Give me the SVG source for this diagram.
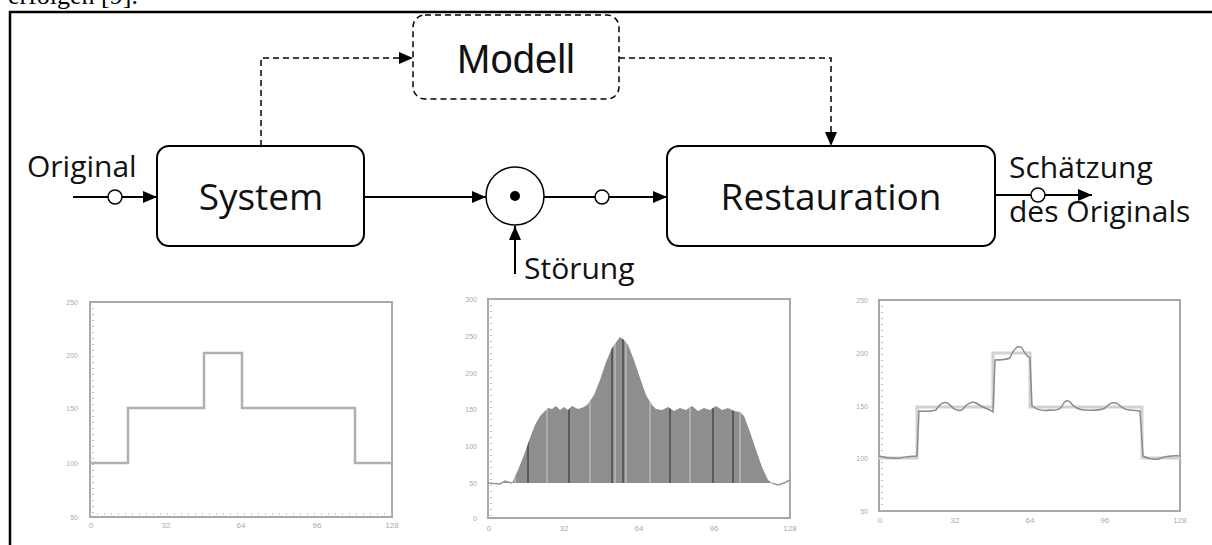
<svg xmlns="http://www.w3.org/2000/svg" width="1212" height="545" viewBox="0 0 1212 545">
<style>
.box{fill:#fff;stroke:#000;stroke-width:2}
.dbox{fill:#fff;stroke:#000;stroke-width:1.5;stroke-dasharray:6 4}
.con{fill:none;stroke:#000;stroke-width:2}
.dcon{fill:none;stroke:#000;stroke-width:1.5;stroke-dasharray:6 4}
.jn{fill:#fff;stroke:#000;stroke-width:1.5}
.lbl{font-family:"Open Sans","Noto Sans",sans-serif;fill:#111}
.big{font-size:37px;text-anchor:middle}
.sm{font-size:30px}
.pf{fill:#fff;stroke:#a8a8a8;stroke-width:2}
.tk{font-family:"Liberation Sans",sans-serif;font-size:8px;fill:#aaa;text-anchor:middle}
.ty{font-family:"Liberation Sans",sans-serif;font-size:7px;fill:#aaa;text-anchor:end}
</style>
<defs>
<marker id="arr" viewBox="0 0 14 12" refX="14" refY="6" markerWidth="14" markerHeight="12" markerUnits="userSpaceOnUse" orient="auto">
<path d="M0,0 L14,6 L0,12 z" fill="#000"/>
</marker>
<clipPath id="fillclip">
<path id="fillshape" d="M488,483 L500,484 L505,481 L512,483 L518,470 L524,455 L530,438 L535,425 L540,416 L545,411 L548,408 L552,409 L556,406 L560,410 L564,407 L568,410 L572,406 L578,409 L584,407 L588,404 L594,395 L600,380 L606,362 L612,348 L617,341 L620,337 L624,340 L628,345 L634,360 L640,378 L646,395 L652,405 L656,409 L662,410 L668,407 L674,411 L680,408 L686,410 L692,406 L698,411 L704,408 L710,410 L716,406 L722,410 L728,408 L734,411 L740,412 L744,416 L750,432 L756,450 L762,467 L768,480 L772,483 Z"/>
</clipPath>
</defs>
<rect width="1212" height="545" fill="#fff"/>
<text x="8" y="4" font-family="Liberation Serif,serif" font-size="26" fill="#000">erfolgen [9].</text>
<path d="M10,545 V12 H1212" fill="none" stroke="#000" stroke-width="2.5"/>

<g id="connectors">
<path class="con" d="M73,197 H157" marker-end="url(#arr)"/>
<circle class="jn" cx="115" cy="197" r="7"/>
<path class="con" d="M364,197 H486" marker-end="url(#arr)"/>
<path class="con" d="M544,197 H667" marker-end="url(#arr)"/>
<circle class="jn" cx="602" cy="197" r="7"/>
<path class="con" d="M515,274 V226" marker-end="url(#arr)"/>
<path class="con" d="M995,195 H1092" marker-end="url(#arr)"/>
<circle class="jn" cx="1038" cy="195" r="7"/>
<path class="dcon" d="M261,146 V58 H413" marker-end="url(#arr)"/>
<path class="dcon" d="M619,58 H831 V146" marker-end="url(#arr)"/>
</g>

<g id="modell">
<rect class="dbox" x="413" y="15" width="206" height="84" rx="12"/>
<text x="516" y="73" font-family="Liberation Sans,sans-serif" font-size="40" fill="#111" text-anchor="middle">Modell</text>
</g>
<g id="system">
<rect class="box" x="157" y="146" width="207" height="100" rx="12"/>
<text class="lbl big" x="261" y="210">System</text>
</g>
<g id="summe">
<circle cx="515" cy="196" r="29" fill="#fff" stroke="#000" stroke-width="1.5"/>
<circle cx="515" cy="196" r="5" fill="#000"/>
</g>
<g id="restauration">
<rect class="box" x="667" y="146" width="328" height="100" rx="12"/>
<text class="lbl big" x="831" y="210">Restauration</text>
</g>
<g id="labels">
<text class="lbl sm" x="27" y="177">Original</text>
<text class="lbl sm" x="524" y="279">Störung</text>
<text class="lbl sm" x="1009" y="178">Schätzung</text>
<text class="lbl sm" x="1009" y="222">des Originals</text>
</g>

<g id="plot1">
<rect class="pf" x="90" y="302" width="302" height="215"/>
<path d="M93,302 V517" stroke="#bbb" stroke-width="2" stroke-dasharray="1 5"/>
<path d="M90,514 H392" stroke="#ccc" stroke-width="2" stroke-dasharray="1 6"/>
<path d="M90,463 H128 V408 H204 V353 H242 V408 H355 V463 H392" fill="none" stroke="#b0b0b0" stroke-width="2.5"/>
<text class="ty" x="78" y="305">250</text>
<text class="ty" x="78" y="358">200</text>
<text class="ty" x="78" y="411">150</text>
<text class="ty" x="78" y="466">100</text>
<text class="ty" x="78" y="520">50</text>
<text class="tk" x="91" y="528">0</text>
<text class="tk" x="166" y="528">32</text>
<text class="tk" x="241" y="528">64</text>
<text class="tk" x="317" y="528">96</text>
<text class="tk" x="392" y="528">128</text>
</g>

<g id="plot2">
<rect class="pf" x="488" y="299" width="302" height="219"/>
<path d="M491,299 V518" stroke="#bbb" stroke-width="2" stroke-dasharray="1 5"/>
<use href="#fillshape" fill="#8e8e8e"/>
<g clip-path="url(#fillclip)" stroke-width="1.5">
<path d="M528,300 V483 M569,300 V483 M612,300 V483 M623,300 V483 M670,300 V483 M713,300 V483 M733,300 V483" stroke="#4a4a4a"/>
<path d="M515,300 V483 M547,300 V483 M590,300 V483 M615,300 V483 M626,300 V483 M650,300 V483 M690,300 V483 M740,300 V483" stroke="#b8b8b8"/>
</g>
<path d="M488,483 L500,484 L505,481 L512,483 M772,483 L778,485 L784,483 L790,480" fill="none" stroke="#999" stroke-width="1.5"/>
<text class="ty" x="477" y="302">300</text>
<text class="ty" x="477" y="339">250</text>
<text class="ty" x="477" y="376">200</text>
<text class="ty" x="477" y="412">150</text>
<text class="ty" x="477" y="449">100</text>
<text class="ty" x="477" y="486">50</text>
<text class="ty" x="477" y="521">0</text>
<text class="tk" x="489" y="531">0</text>
<text class="tk" x="564" y="531">32</text>
<text class="tk" x="639" y="531">64</text>
<text class="tk" x="714" y="531">96</text>
<text class="tk" x="790" y="531">128</text>
</g>

<g id="plot3">
<rect class="pf" x="879" y="300" width="301" height="211"/>
<path d="M882,300 V511" stroke="#bbb" stroke-width="2" stroke-dasharray="1 5"/>
<path d="M879,458 H917 V407 H993 V353 H1030 V407 H1142 V458 H1180" fill="none" stroke="#d2d2d2" stroke-width="3"/>
<path d="M879,456 Q890,459 900,458 Q910,456 917,456 L919,411 Q930,412 936,410 Q944,398 950,405 Q956,412 962,410 Q970,400 976,403 Q984,408 990,410 L993,412 L995,360 Q1005,360 1010,358 Q1016,343 1022,348 Q1026,356 1030,358 L1032,406 Q1040,412 1050,410 Q1060,411 1062,406 Q1066,398 1070,402 Q1076,410 1085,410 Q1100,411 1105,408 Q1112,400 1118,404 Q1124,410 1130,410 L1140,411 L1143,456 Q1150,460 1158,459 Q1170,455 1180,456" fill="none" stroke="#8a8a8a" stroke-width="1.5"/>
<text class="ty" x="868" y="303">250</text>
<text class="ty" x="868" y="356">200</text>
<text class="ty" x="868" y="409">150</text>
<text class="ty" x="868" y="461">100</text>
<text class="ty" x="868" y="514">50</text>
<text class="tk" x="880" y="523">0</text>
<text class="tk" x="955" y="523">32</text>
<text class="tk" x="1030" y="523">64</text>
<text class="tk" x="1105" y="523">96</text>
<text class="tk" x="1180" y="523">128</text>
</g>
</svg>
